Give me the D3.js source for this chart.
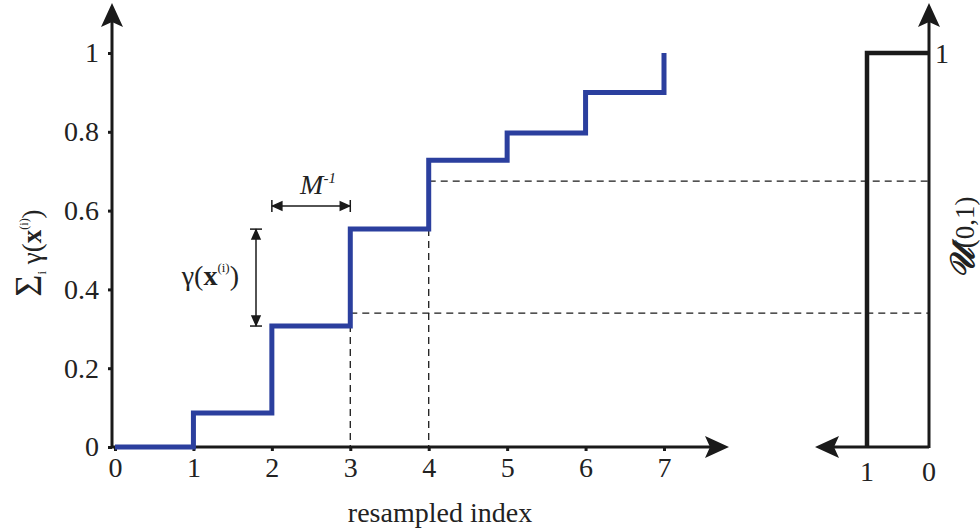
<!DOCTYPE html>
<html>
<head>
<meta charset="utf-8">
<script src="https://cdn.jsdelivr.net/npm/d3@7"></script>
<style>
  body { margin: 0; background: #fff; }
  text { font-family: "Liberation Serif", "DejaVu Serif", serif; fill: #222; }
</style>
</head>
<body>
<script>
// step heights of the cumulative weights, one per resampled index
var stepIndex = [0, 1, 2, 3, 4, 5, 6];
var stepValue = [0, 0.086, 0.307, 0.553, 0.728, 0.797, 0.900];
var finalValue = 1;
var xTicks = [0, 1, 2, 3, 4, 5, 6, 7];
var yTicks = [0, 0.2, 0.4, 0.6, 0.8, 1];
// uniform draws and where they land
var uDraws = [0.34, 0.675];
var uHits = [3, 4];

var svg = d3.select("body").append("svg")
    .attr("width", 980)
    .attr("height", 532);

var x = d3.scaleLinear().domain([0, 7]).range([115, 664]);
var y = d3.scaleLinear().domain([0, 1]).range([447, 53]);
var xu = d3.scaleLinear().domain([0, 1]).range([929, 867]);

var ink = "#1a1a1a";
var fs = 28;
var serif = "'Liberation Serif', 'DejaVu Serif', serif";

// arrowheads
function arrow(tx, ty, dir) {
    var L = 24, W = 11, p;
    if (dir == "up") p = [[tx, ty], [tx - W, ty + L], [tx, ty + L - 5], [tx + W, ty + L]];
    if (dir == "right") p = [[tx, ty], [tx - L, ty - W], [tx - L + 5, ty], [tx - L, ty + W]];
    if (dir == "left") p = [[tx, ty], [tx + L, ty - W], [tx + L - 5, ty], [tx + L, ty + W]];
    svg.append("path").attr("d", "M" + p.join("L") + "Z").attr("fill", ink);
}

// dashed guide lines
var guide = svg.append("g")
    .attr("stroke", ink)
    .attr("stroke-width", 1.3)
    .attr("stroke-dasharray", "7,5")
    .attr("fill", "none");
uDraws.forEach(function (u, i) {
    guide.append("line")
        .attr("x1", x(uHits[i])).attr("x2", xu(0))
        .attr("y1", y(u)).attr("y2", y(u));
    guide.append("line")
        .attr("x1", x(uHits[i])).attr("x2", x(uHits[i]))
        .attr("y1", y(u)).attr("y2", y(0));
});

// left axes
svg.append("line").attr("x1", x(0) - 3).attr("x2", 712).attr("y1", y(0)).attr("y2", y(0))
    .attr("stroke", ink).attr("stroke-width", 3);
svg.append("line").attr("x1", x(0) - 3).attr("x2", x(0) - 3).attr("y1", y(0) + 1).attr("y2", 20)
    .attr("stroke", ink).attr("stroke-width", 3);
arrow(x(0) - 3, 3, "up");
arrow(729, y(0), "right");

var xAxis = d3.axisBottom(x).tickValues(xTicks).tickSize(4).tickPadding(6).tickFormat(d3.format("d"));
var gx = svg.append("g").attr("transform", "translate(0," + y(0) + ")").call(xAxis);
gx.attr("font-family", serif);
gx.select(".domain").remove();
gx.selectAll("line").attr("stroke", ink).attr("stroke-width", 3);
gx.selectAll("text").attr("font-size", fs).attr("fill", ink).style("font-family", serif);

var yAxis = d3.axisLeft(y).tickValues(yTicks).tickSize(4).tickPadding(9).tickFormat(d3.format("~g"));
var gy = svg.append("g").attr("transform", "translate(" + (x(0) - 3) + ",0)").call(yAxis);
gy.attr("font-family", serif);
gy.select(".domain").remove();
gy.selectAll("line").attr("stroke", ink).attr("stroke-width", 3);
gy.selectAll("text").attr("font-size", fs).attr("fill", ink).style("font-family", serif);

// staircase
var pts = [];
stepIndex.forEach(function (k, i) {
    pts.push([x(k), y(stepValue[i])]);
    pts.push([x(k + 1), y(stepValue[i])]);
});
pts.push([x(7), y(finalValue)]);
svg.append("path")
    .attr("d", d3.line()(pts))
    .attr("fill", "none")
    .attr("stroke", "#2b3f9e")
    .attr("stroke-width", 5)
    .attr("stroke-linejoin", "miter")
    .attr("stroke-linecap", "butt");

// right panel: uniform density
svg.append("line").attr("x1", xu(0)).attr("x2", xu(0)).attr("y1", y(0) + 1).attr("y2", 20)
    .attr("stroke", ink).attr("stroke-width", 3);
svg.append("line").attr("x1", xu(0)).attr("x2", 832).attr("y1", y(0)).attr("y2", y(0))
    .attr("stroke", ink).attr("stroke-width", 3);
arrow(xu(0), 3, "up");
arrow(815, y(0), "left");
svg.append("path")
    .attr("d", d3.line()([[xu(1), y(0)], [xu(1), y(1)], [xu(0), y(1)]]))
    .attr("fill", "none").attr("stroke", ink).attr("stroke-width", 4.5);
svg.append("text").attr("x", xu(1)).attr("y", 481).attr("text-anchor", "middle")
    .attr("font-size", fs).text("1");
svg.append("text").attr("x", xu(0)).attr("y", 481).attr("text-anchor", "middle")
    .attr("font-size", fs).text("0");
svg.append("text").attr("x", xu(0) + 6).attr("y", y(1) + 10)
    .attr("font-size", fs).text("1");
svg.append("text")
    .attr("transform", "translate(974,238) rotate(-90)")
    .attr("text-anchor", "middle").attr("font-size", 27)
    .html('<tspan font-style="italic" font-weight="bold" font-size="34">𝒰</tspan>(0,1)');

// axis titles
svg.append("text").attr("x", 440).attr("y", 522).attr("text-anchor", "middle")
    .attr("font-size", 28).text("resampled index");
svg.append("text")
    .attr("transform", "translate(41,253) rotate(-90)")
    .attr("text-anchor", "middle").attr("font-size", 27)
    .html('<tspan font-size="38">Σ</tspan><tspan font-size="13" dy="5">i</tspan><tspan dy="-5"> γ(</tspan><tspan font-weight="bold">x</tspan><tspan font-size="12" dy="-13">(i)</tspan><tspan dy="13">)</tspan>');

// annotations
var ann = svg.append("g").attr("stroke", ink).attr("stroke-width", 1.5).attr("fill", ink);
var ay = 206;
ann.append("line").attr("x1", x(2)).attr("x2", x(3)).attr("y1", ay).attr("y2", ay);
ann.append("line").attr("x1", x(2)).attr("x2", x(2)).attr("y1", ay - 6).attr("y2", ay + 6);
ann.append("line").attr("x1", x(3)).attr("x2", x(3)).attr("y1", ay - 6).attr("y2", ay + 6);
ann.append("path").attr("d", "M" + [[x(2) + 1, ay], [x(2) + 10, ay - 4], [x(2) + 10, ay + 4]].join("L") + "Z");
ann.append("path").attr("d", "M" + [[x(3) - 1, ay], [x(3) - 10, ay - 4], [x(3) - 10, ay + 4]].join("L") + "Z");
svg.append("text").attr("x", 318).attr("y", 194).attr("text-anchor", "middle")
    .attr("font-size", 28).attr("font-style", "italic")
    .html('M<tspan font-size="15" dy="-11">-1</tspan>');

var vx = 256, yTop = y(stepValue[3]), yBot = y(stepValue[2]);
ann.append("line").attr("x1", vx).attr("x2", vx).attr("y1", yTop).attr("y2", yBot);
ann.append("line").attr("x1", vx - 6).attr("x2", vx + 6).attr("y1", yTop).attr("y2", yTop);
ann.append("line").attr("x1", vx - 6).attr("x2", vx + 6).attr("y1", yBot).attr("y2", yBot);
ann.append("path").attr("d", "M" + [[vx, yTop + 1], [vx - 4, yTop + 10], [vx + 4, yTop + 10]].join("L") + "Z");
ann.append("path").attr("d", "M" + [[vx, yBot - 1], [vx - 4, yBot - 10], [vx + 4, yBot - 10]].join("L") + "Z");
svg.append("text").attr("x", 239).attr("y", 285).attr("text-anchor", "end")
    .attr("font-size", 28)
    .html('γ(<tspan font-weight="bold">x</tspan><tspan font-size="13" dy="-13">(i)</tspan><tspan dy="13">)</tspan>');
</script>
</body>
</html>
